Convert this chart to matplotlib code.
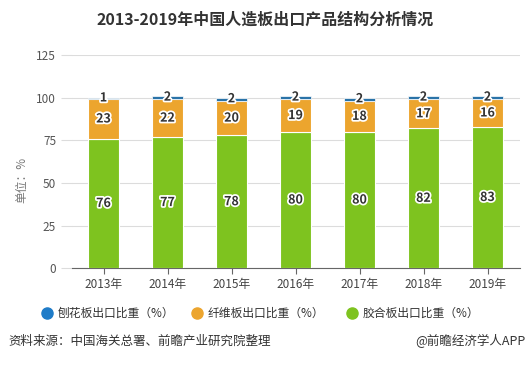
import matplotlib.pyplot as plt
import matplotlib.patheffects as pe
from matplotlib.lines import Line2D
import numpy as np

plt.rcParams['font.family'] = ['Noto Sans CJK SC', 'DejaVu Sans']

years = ['2013年', '2014年', '2015年', '2016年', '2017年', '2018年', '2019年']
plywood = [76, 77, 78, 80, 80, 82, 83]      # 胶合板
fiberboard = [23, 22, 20, 19, 18, 17, 16]   # 纤维板
particle = [1, 2, 2, 2, 2, 2, 2]            # 刨花板
series_names = ['刨花板出口比重（%）', '纤维板出口比重（%）', '胶合板出口比重（%）']

c_green = '#7ec31f'
c_orange = '#eca52e'
c_blue = '#2a73a8'
c_blue_leg = '#1f7cc8'

W, H = 530, 369
fig = plt.figure(figsize=(W / 100, H / 100), dpi=100)
ax = fig.add_axes([71.5 / W, 1 - 268.3 / H, 448 / W, 213.3 / H])

x = np.arange(len(years))
bw = 0.47
halo = [pe.withStroke(linewidth=2.5, foreground='white')]

ax.bar(x, plywood, bw, color=c_green, edgecolor='white', linewidth=0.8, zorder=3)
ax.bar(x, fiberboard, bw, bottom=plywood, color=c_orange, edgecolor='white', linewidth=0.8, zorder=3)
bottom3 = np.array(plywood) + np.array(fiberboard)
ax.bar(x, particle, bw, bottom=bottom3, color=c_blue, edgecolor='white', linewidth=0.5, zorder=3)

for i in range(len(years)):
    ax.text(x[i], plywood[i] / 2, str(plywood[i]), ha='center', va='center', fontsize=9,
            fontweight='bold', color='#333333', path_effects=halo, zorder=5)
    ax.text(x[i], plywood[i] + fiberboard[i] / 2, str(fiberboard[i]), ha='center', va='center',
            fontsize=9, fontweight='bold', color='#333333', path_effects=halo, zorder=5)
    ax.text(x[i], bottom3[i] + particle[i] / 2 + 0.3, str(particle[i]), ha='center', va='center',
            fontsize=9, fontweight='bold', color='#333333', path_effects=halo, zorder=5)

ax.set_xlim(-0.5, len(years) - 0.5)
ax.set_ylim(0, 125)
ax.set_yticks([0, 25, 50, 75, 100, 125])
ax.set_xticks(x)
ax.set_xticklabels(years)
ax.grid(axis='y', color='#dcdcdc', linewidth=0.8, zorder=0)
for s in ['top', 'right', 'left']:
    ax.spines[s].set_visible(False)
ax.spines['bottom'].set_color('#666666')
ax.tick_params(axis='y', length=8, color='#dcdcdc', width=0.8, labelsize=8.5, labelcolor='#555555', pad=3)
ax.tick_params(axis='x', length=4, color='#666666', labelsize=8.5, labelcolor='#444444', pad=3)

fig.text(22 / W, 1 - 180 / H, '单位：%', rotation=90, ha='center', va='center', fontsize=8.5, color='#777777')

fig.text(0.5, 1 - 20 / H, '2013-2019年中国人造板出口产品结构分析情况', ha='center', va='center',
         fontsize=11.5, fontweight='bold', color='#333333')

# legend
leg_x = [47, 197, 352]
leg_c = [c_blue_leg, c_orange, c_green]
for lx, lc, name in zip(leg_x, leg_c, series_names):
    fig.add_artist(Line2D([lx / W], [1 - 313 / H], marker='o', markersize=8, color=lc,
                          linestyle='none', transform=fig.transFigure))
    fig.text((lx + 11) / W, 1 - 313 / H, name, ha='left', va='center', fontsize=8.5, color='#333333')

fig.text(8 / W, 1 - 341 / H, '资料来源：中国海关总署、前瞻产业研究院整理', ha='left', va='center',
         fontsize=9, color='#333333')
fig.text(525 / W, 1 - 341 / H, '@前瞻经济学人APP', ha='right', va='center', fontsize=9, color='#333333')

fig.savefig('out.png', dpi=100)
